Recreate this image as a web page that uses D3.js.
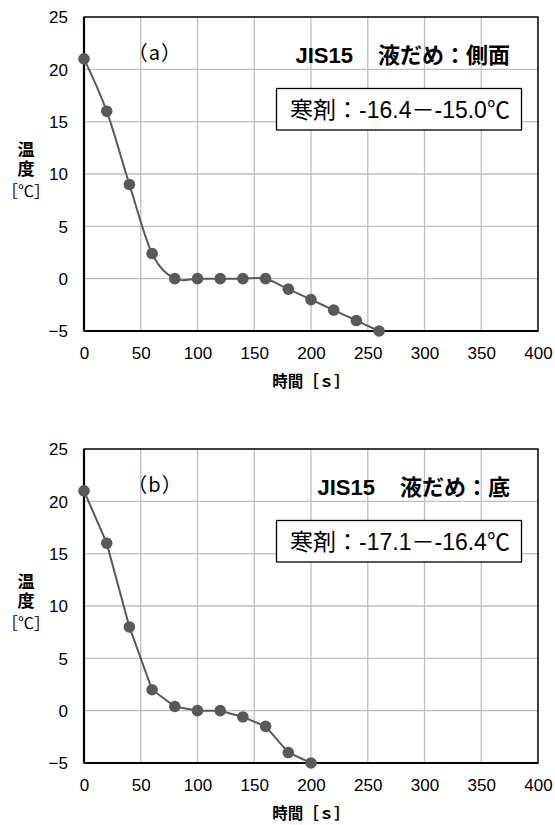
<!DOCTYPE html>
<html>
<head>
<meta charset="utf-8">
<script src="https://cdn.jsdelivr.net/npm/d3@7"></script>
<style>
  body { margin: 0; background: #fff; }
  svg { display: block; }
  text { font-family: "Liberation Sans", Arial, "Noto Sans CJK JP", sans-serif; fill: #000; }
  .cjk { font-family: "Liberation Sans", "Noto Sans CJK JP", sans-serif; }
  .ja { font-family: "Noto Sans CJK JP", sans-serif; }
</style>
</head>
<body>
<script>
// ---- data ----
const xTicks = [0, 50, 100, 150, 200, 250, 300, 350, 400];
const yTicks = [-5, 0, 5, 10, 15, 20, 25];

const timesA = [0, 20, 40, 60, 80, 100, 120, 140, 160, 180, 200, 220, 240, 260];
const tempA  = [21, 16, 9, 2.4, 0, 0, 0, 0, 0, -1, -2, -3, -4, -5];

const timesB = [0, 20, 40, 60, 80, 100, 120, 140, 160, 180, 200];
const tempB  = [21, 16, 8, 2, 0.4, 0, 0, -0.6, -1.5, -4, -5];

const panelLabels = ["（a）", "（b）"];
const panelTitlesLatin = ["JIS15", "JIS15"];
const panelTitlesJa = ["液だめ：側面", "液だめ：底"];
const legendTexts = ["寒剤：-16.4－-15.0℃", "寒剤：-17.1－-16.4℃"];
const xTitle = "時間［ｓ］";
const yTitleMain = "温度";
const yTitleUnit = "［℃］";

// ---- drawing ----
const W = 555, H = 825;
const svg = d3.select("body").append("svg").attr("width", W).attr("height", H);

function drawPanel(top, times, temps, idx, curve) {
  const left = 84, right = 538, bottom = top + 314;
  const x = d3.scaleLinear().domain([0, 400]).range([left, right]);
  const y = d3.scaleLinear().domain([-5, 25]).range([bottom, top]);
  const g = svg.append("g");

  // grid
  g.append("g").selectAll("line.vg").data(xTicks.slice(1, -1)).join("line")
    .attr("x1", d => x(d)).attr("x2", d => x(d)).attr("y1", top).attr("y2", bottom)
    .attr("stroke", "#bfbfbf").attr("stroke-width", 1.3);
  g.append("g").selectAll("line.hg").data(yTicks.slice(1, -1)).join("line")
    .attr("x1", left).attr("x2", right).attr("y1", d => y(d)).attr("y2", d => y(d))
    .attr("stroke", "#bfbfbf").attr("stroke-width", 1.3);

  // frame
  g.append("rect").attr("x", left).attr("y", top).attr("width", right - left).attr("height", bottom - top)
    .attr("fill", "none").attr("stroke", "#000").attr("stroke-width", 1.5);
  g.append("line").attr("x1", left).attr("x2", left).attr("y1", top).attr("y2", bottom)
    .attr("stroke", "#000").attr("stroke-width", 2.2);
  g.append("line").attr("x1", left).attr("x2", right).attr("y1", bottom).attr("y2", bottom)
    .attr("stroke", "#000").attr("stroke-width", 2.2);

  // axes (labels only)
  const xAxis = d3.axisBottom(x).tickValues(xTicks).tickSize(0).tickPadding(0);
  const xa = g.append("g").attr("transform", `translate(0,${bottom})`).call(xAxis);
  xa.select(".domain").remove();
  xa.selectAll("text").attr("y", 22).attr("dy", "0.35em")
    .style("font-size", "17px").style("font-family", '"Liberation Sans", Arial, sans-serif').attr("fill", "#000");

  const yAxis = d3.axisLeft(y).tickValues(yTicks).tickSize(0).tickPadding(0)
    .tickFormat(d => d < 0 ? "−" + Math.abs(d) : String(d));
  const ya = g.append("g").attr("transform", `translate(${left - 16},0)`).call(yAxis);
  ya.select(".domain").remove();
  ya.selectAll("text").attr("x", 0).attr("dy", "0.35em")
    .style("font-size", "17px").style("font-family", '"Liberation Sans", Arial, sans-serif').attr("fill", "#000");

  // line + markers
  const pts = times.map((t, i) => [t, temps[i]]);
  const line = d3.line().x(d => x(d[0])).y(d => y(d[1])).curve(curve);
  g.append("path").datum(pts).attr("d", line)
    .attr("fill", "none").attr("stroke", "#595959").attr("stroke-width", 2);
  g.append("g").selectAll("circle").data(pts).join("circle")
    .attr("cx", d => x(d[0])).attr("cy", d => y(d[1])).attr("r", 5.8)
    .attr("fill", "#595959");

  // panel label
  g.append("text").attr("class", "ja").attr("x", 155).attr("y", top + 36).attr("dy", "0.35em")
    .attr("text-anchor", "middle").style("font-size", "20px").style("letter-spacing", "1px")
    .text(panelLabels[idx]);

  // title
  const tg = g.append("text").attr("x", 510).attr("y", top + 38).attr("dy", "0.35em")
    .attr("text-anchor", "end").style("font-size", "22px").style("font-weight", "bold");
  tg.append("tspan").style("font-family", '"Liberation Sans", Arial, sans-serif').text(panelTitlesLatin[idx]);
  tg.append("tspan").attr("dx", 25).style("font-family", '"Noto Sans CJK JP", sans-serif')
    .text(panelTitlesJa[idx]);

  // legend box
  g.append("rect").attr("x", 276.5).attr("y", top + 71.5).attr("width", 245).attr("height", 41.5)
    .attr("fill", "#fff").attr("stroke", "#000").attr("stroke-width", 1.3);
  g.append("text").attr("class", "cjk").attr("x", 400).attr("y", top + 92.5).attr("dy", "0.35em")
    .attr("text-anchor", "middle").style("font-size", "23px").text(legendTexts[idx]);

  // axis titles
  g.append("text").attr("class", "ja").attr("x", 311).attr("y", bottom + 51).attr("dy", "0.35em")
    .attr("text-anchor", "middle").style("font-size", "15.5px").style("font-weight", "bold").text(xTitle);
  g.append("text").attr("class", "ja").attr("x", 26).attr("y", top + 143.5)
    .attr("text-anchor", "middle")
    .style("writing-mode", "vertical-rl").style("font-size", "17px").style("font-weight", "bold")
    .style("letter-spacing", "2px")
    .text(yTitleMain);
  g.append("text").attr("class", "ja").attr("x", 26).attr("y", top + 174).attr("dy", "0.35em")
    .attr("text-anchor", "middle").style("font-size", "16px").text(yTitleUnit);
}

drawPanel(17, timesA, tempA, 0, d3.curveCardinal.tension(0));
drawPanel(449, timesB, tempB, 1, d3.curveLinear);
</script>
</body>
</html>
